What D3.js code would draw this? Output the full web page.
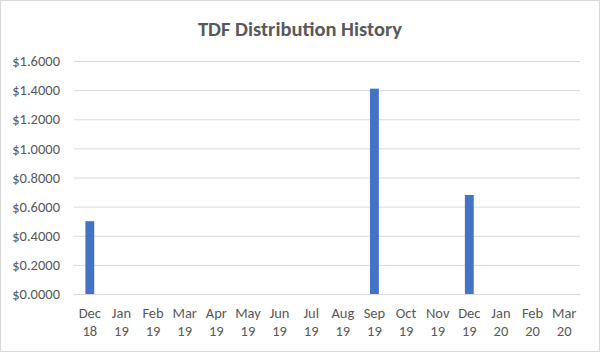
<!DOCTYPE html>
<html><head><meta charset="utf-8">
<script src="https://cdn.jsdelivr.net/npm/d3@7"></script>
<style>html,body{margin:0;padding:0;background:#fff;}svg{display:block;}</style>
</head><body>
<script>
const months = ["Dec","Jan","Feb","Mar","Apr","May","Jun","Jul","Aug","Sep","Oct","Nov","Dec","Jan","Feb","Mar"];
const years  = ["18","19","19","19","19","19","19","19","19","19","19","19","19","20","20","20"];
const values = [0.50,0,0,0,0,0,0,0,0,1.41,0,0,0.68,0,0,0];
const yTicks = [0,0.2,0.4,0.6,0.8,1.0,1.2,1.4,1.6];
const title = "TDF Distribution History";

const W=600,H=352;
const svg=d3.select("body").append("svg").attr("width",W).attr("height",H);
svg.append("rect").attr("x",0.5).attr("y",0.5).attr("width",W-1).attr("height",H-1)
  .attr("fill","#fff").attr("stroke","#d9d9d9");
const cats = months.map((m,i)=>i);
const x=d3.scaleBand().domain(cats).range([74,580]).paddingInner(0.72).paddingOuter(0.36);
const y=d3.scaleLinear().domain([0,1.6]).range([294,61]);
const font="Carlito, 'Liberation Sans', Arial, sans-serif";

svg.append("text").attr("x",300).attr("y",36).attr("text-anchor","middle")
  .attr("font-family",font).attr("font-weight","bold").attr("font-size",20.5)
  .attr("fill","#595959").text(title);

const yAxis=svg.append("g").attr("transform","translate(74,0)")
  .call(d3.axisLeft(y).tickValues(yTicks).tickSize(-506).tickFormat(d=>"$"+d.toFixed(4)));
yAxis.select(".domain").remove();
yAxis.selectAll(".tick line").attr("stroke","#d9d9d9");
yAxis.selectAll(".tick text").attr("x",-14).attr("font-family",font).attr("font-size",14.5).attr("fill","#595959");

svg.append("g").selectAll("rect").data(values).join("rect")
  .attr("x",(d,i)=>x(i)).attr("width",x.bandwidth())
  .attr("y",d=>y(d)).attr("height",d=>y(0)-y(d)).attr("fill","#4472C4");

const xAxis=svg.append("g").attr("transform","translate(0,294)")
  .call(d3.axisBottom(x).tickSize(0).tickFormat(""));
xAxis.select(".domain").attr("stroke","#d9d9d9");
xAxis.selectAll(".tick").each(function(d){
  const t=d3.select(this).append("text").attr("text-anchor","middle")
    .attr("font-family",font).attr("font-size",14.5).attr("fill","#595959");
  t.append("tspan").attr("x",0).attr("y",24).text(months[d]);
  t.append("tspan").attr("x",0).attr("y",42).text(years[d]);
});
</script>
</body></html>
